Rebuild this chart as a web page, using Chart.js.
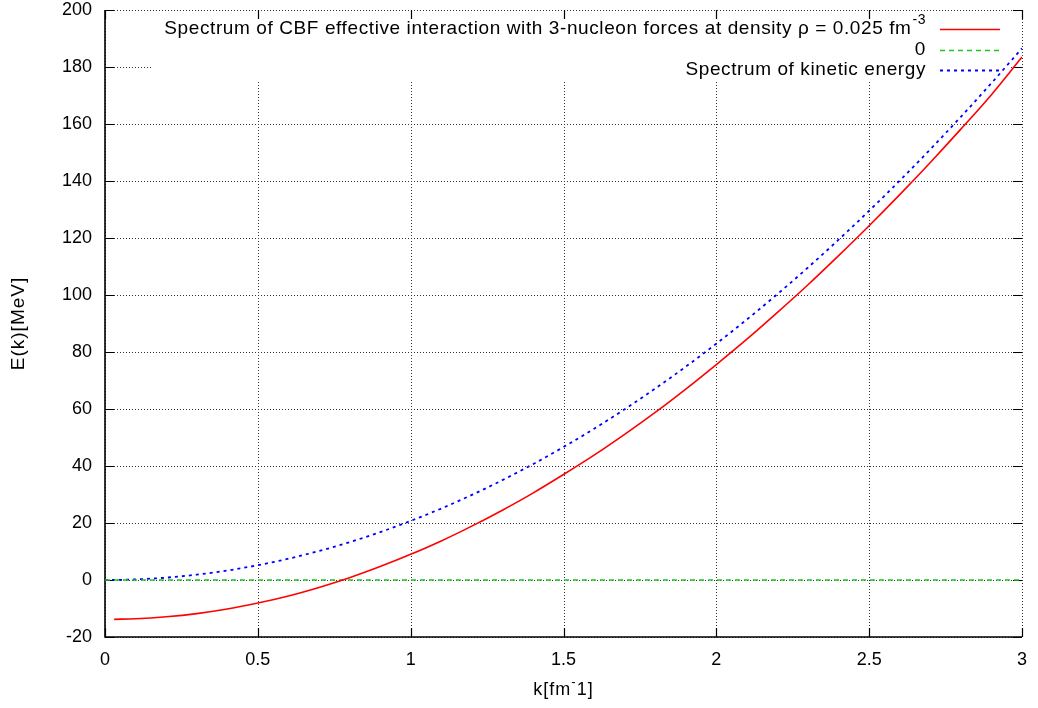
<!DOCTYPE html>
<html>
<head>
<meta charset="utf-8">
<script src="https://cdn.jsdelivr.net/npm/chart.js@4.4.1/dist/chart.umd.min.js"></script>
<style>
    html, body { margin: 0; padding: 0; background: #fff; }
    #wrap { width: 1038px; height: 708px; }
</style>
</head>
<body>
<div id="wrap"><canvas id="spectrumChart" width="1038" height="708"></canvas></div>
<script>
// k values in fm^-1
const kValues = [0, 0.03, 0.1, 0.2, 0.3, 0.4, 0.5, 0.6, 0.7, 0.8, 0.9, 1.0, 1.1, 1.2, 1.3, 1.4, 1.5,
    1.6, 1.7, 1.8, 1.9, 2.0, 2.1, 2.2, 2.3, 2.4, 2.5, 2.6, 2.7, 2.8, 2.9, 3.0];

// E(k) in MeV (null = not drawn)
const cbfSpectrum = [null, -13.8, -13.6, -12.9, -11.8, -10.2, -8.1, -5.6, -2.6, 0.8, 4.7, 9.0, 13.7, 18.9,
    24.5, 30.5, 37.0, 43.8, 51.1, 58.8, 67.0, 75.6, 84.5, 93.9, 103.6, 113.8, 124.3, 135.2, 146.5,
    158.2, 170.3, 183.5];
const kineticSpectrum = [0, 0.02, 0.21, 0.83, 1.87, 3.32, 5.18, 7.46, 10.16, 13.27, 16.79, 20.73, 25.08,
    29.85, 35.03, 40.63, 46.64, 53.07, 59.91, 67.17, 74.84, 82.92, 91.42, 100.33, 109.66, 119.40,
    129.56, 140.13, 151.12, 162.52, 174.33, 186.57];
const zeroK = [0, 3];
const zeroLine = [0, 0];

const xTicks = [0, 0.5, 1, 1.5, 2, 2.5, 3];
const yTicks = [-20, 0, 20, 40, 60, 80, 100, 120, 140, 160, 180, 200];

const seriesLabels = [
    'Spectrum of CBF effective interaction with 3-nucleon forces at density \u03c1 = 0.025 fm',
    '0',
    'Spectrum of kinetic energy'
];

const FONT = '"Liberation Sans", Arial, Helvetica, sans-serif';

function toPoints(xs, ys) {
    return xs.map((x, i) => ({ x: x, y: ys[i] })).filter(p => p.y !== null);
}

const datasets = [
    {
        label: seriesLabels[0],
        data: toPoints(kValues, cbfSpectrum),
        borderColor: '#ff0000',
        borderWidth: 1.6,
        cubicInterpolationMode: 'monotone'
    },
    {
        label: seriesLabels[1],
        data: toPoints(zeroK, zeroLine),
        borderColor: '#22c422',
        borderWidth: 1.5,
        borderDash: [5, 4]
    },
    {
        label: seriesLabels[2],
        data: toPoints(kValues, kineticSpectrum),
        borderColor: '#0000ff',
        borderWidth: 1.8,
        borderDash: [3, 4],
        cubicInterpolationMode: 'monotone'
    }
];

function setFont(ctx, size, spacing) {
    ctx.font = size + 'px ' + FONT;
    ctx.letterSpacing = (spacing === undefined ? 1 : spacing) + 'px';
}

// gnuplot-like frame: dotted grid, cleared key box, inward ticks, key and axis titles
const gnuplotFrame = {
    id: 'gnuplotFrame',
    beforeDatasetsDraw(chart) {
        const ctx = chart.ctx;
        const a = chart.chartArea;
        const xs = chart.scales.x, ys = chart.scales.y;
        ctx.save();
        // grid
        ctx.strokeStyle = '#333';
        ctx.lineWidth = 1;
        ctx.setLineDash([1, 2]);
        xTicks.forEach(v => {
            const px = Math.round(xs.getPixelForValue(v)) + 0.5;
            ctx.beginPath(); ctx.moveTo(px, a.top); ctx.lineTo(px, a.bottom); ctx.stroke();
        });
        yTicks.forEach(v => {
            const py = Math.round(ys.getPixelForValue(v)) + 0.5;
            ctx.beginPath(); ctx.moveTo(a.left, py); ctx.lineTo(a.right, py); ctx.stroke();
        });
        ctx.setLineDash([]);
        // key box clears the grid
        ctx.fillStyle = '#fff';
        ctx.fillRect(152, 19, 858, 61);
        // left and bottom border
        ctx.strokeStyle = '#000';
        ctx.lineWidth = 1.6;
        ctx.beginPath();
        ctx.moveTo(a.left, a.top);
        ctx.lineTo(a.left, a.bottom);
        ctx.lineTo(a.right, a.bottom);
        ctx.stroke();
        // inward ticks, mirrored
        ctx.lineWidth = 1.2;
        const tl = 9;
        xTicks.forEach(v => {
            const px = Math.round(xs.getPixelForValue(v)) + 0.5;
            ctx.beginPath();
            ctx.moveTo(px, a.bottom); ctx.lineTo(px, a.bottom - tl);
            ctx.moveTo(px, a.top); ctx.lineTo(px, a.top + tl);
            ctx.stroke();
        });
        yTicks.forEach(v => {
            const py = Math.round(ys.getPixelForValue(v)) + 0.5;
            ctx.beginPath();
            ctx.moveTo(a.left, py); ctx.lineTo(a.left + tl, py);
            ctx.moveTo(a.right, py); ctx.lineTo(a.right - tl, py);
            ctx.stroke();
        });
        ctx.restore();
    },
    afterDraw(chart) {
        const ctx = chart.ctx;
        const a = chart.chartArea;
        ctx.save();
        ctx.fillStyle = '#000';
        ctx.textBaseline = 'middle';

        // key
        const textRight = 926;
        const rows = [29, 50, 70];
        setFont(ctx, 14, 0.5);
        const supW = ctx.measureText('-3').width;
        ctx.textAlign = 'left';
        ctx.fillText('-3', textRight - supW, rows[0] - 9);
        setFont(ctx, 19, 0.6);
        ctx.textAlign = 'right';
        ctx.fillText(seriesLabels[0], textRight - supW - 1, rows[0]);
        ctx.fillText(seriesLabels[1], textRight, rows[1]);
        ctx.fillText(seriesLabels[2], textRight, rows[2]);
        datasets.forEach((ds, i) => {
            ctx.strokeStyle = ds.borderColor;
            ctx.lineWidth = ds.borderWidth;
            ctx.setLineDash(ds.borderDash || []);
            ctx.beginPath();
            ctx.moveTo(940, rows[i] + 0.5);
            ctx.lineTo(1000, rows[i] + 0.5);
            ctx.stroke();
        });
        ctx.setLineDash([]);

        // axis titles
        setFont(ctx, 18);
        const xMain = 'k[fm', xSup = '-', xEnd = '1]';
        const w1 = ctx.measureText(xMain).width;
        const w3 = ctx.measureText(xEnd).width;
        setFont(ctx, 13);
        const w2 = ctx.measureText(xSup).width;
        const total = w1 + w2 + w3;
        const x0 = (a.left + a.right) / 2 - total / 2;
        const yT = 690;
        ctx.textAlign = 'left';
        setFont(ctx, 18);
        ctx.fillText(xMain, x0, yT);
        setFont(ctx, 13);
        ctx.fillText(xSup, x0 + w1, yT - 8);
        setFont(ctx, 18);
        ctx.fillText(xEnd, x0 + w1 + w2, yT);

        ctx.translate(19, (a.top + a.bottom) / 2);
        ctx.rotate(-Math.PI / 2);
        ctx.textAlign = 'center';
        setFont(ctx, 19);
        ctx.fillText('E(k)[MeV]', 0, 0);
        ctx.restore();
    }
};

Chart.defaults.color = '#000';
Chart.defaults.font.family = FONT;
Chart.defaults.font.size = 18;

const config = {
    type: 'line',
    data: { datasets: datasets },
    options: {
        responsive: false,
        animation: false,
        layout: { padding: { top: 10, right: 16, left: 0, bottom: 0 } },
        elements: { point: { radius: 0 } },
        scales: {
            x: {
                type: 'linear',
                min: 0,
                max: 3,
                afterFit: s => { s.height = 71; s.paddingLeft = 0; s.paddingRight = 0; },
                afterBuildTicks: s => { s.ticks = xTicks.map(v => ({ value: v })); },
                ticks: { padding: 12, maxRotation: 0, callback: v => String(v) },
                grid: { display: false, drawTicks: false },
                border: { display: false }
            },
            y: {
                min: -20,
                max: 200,
                afterFit: s => { s.width = 105; s.paddingTop = 0; s.paddingBottom = 0; },
                afterBuildTicks: s => { s.ticks = yTicks.map(v => ({ value: v })); },
                ticks: { padding: 13, callback: v => String(v) },
                grid: { display: false, drawTicks: false },
                border: { display: false }
            }
        },
        plugins: {
            legend: { display: false },
            tooltip: { enabled: false }
        }
    },
    plugins: [gnuplotFrame]
};

const spectrumChart = new Chart(document.getElementById('spectrumChart'), config);
</script>
</body>
</html>
